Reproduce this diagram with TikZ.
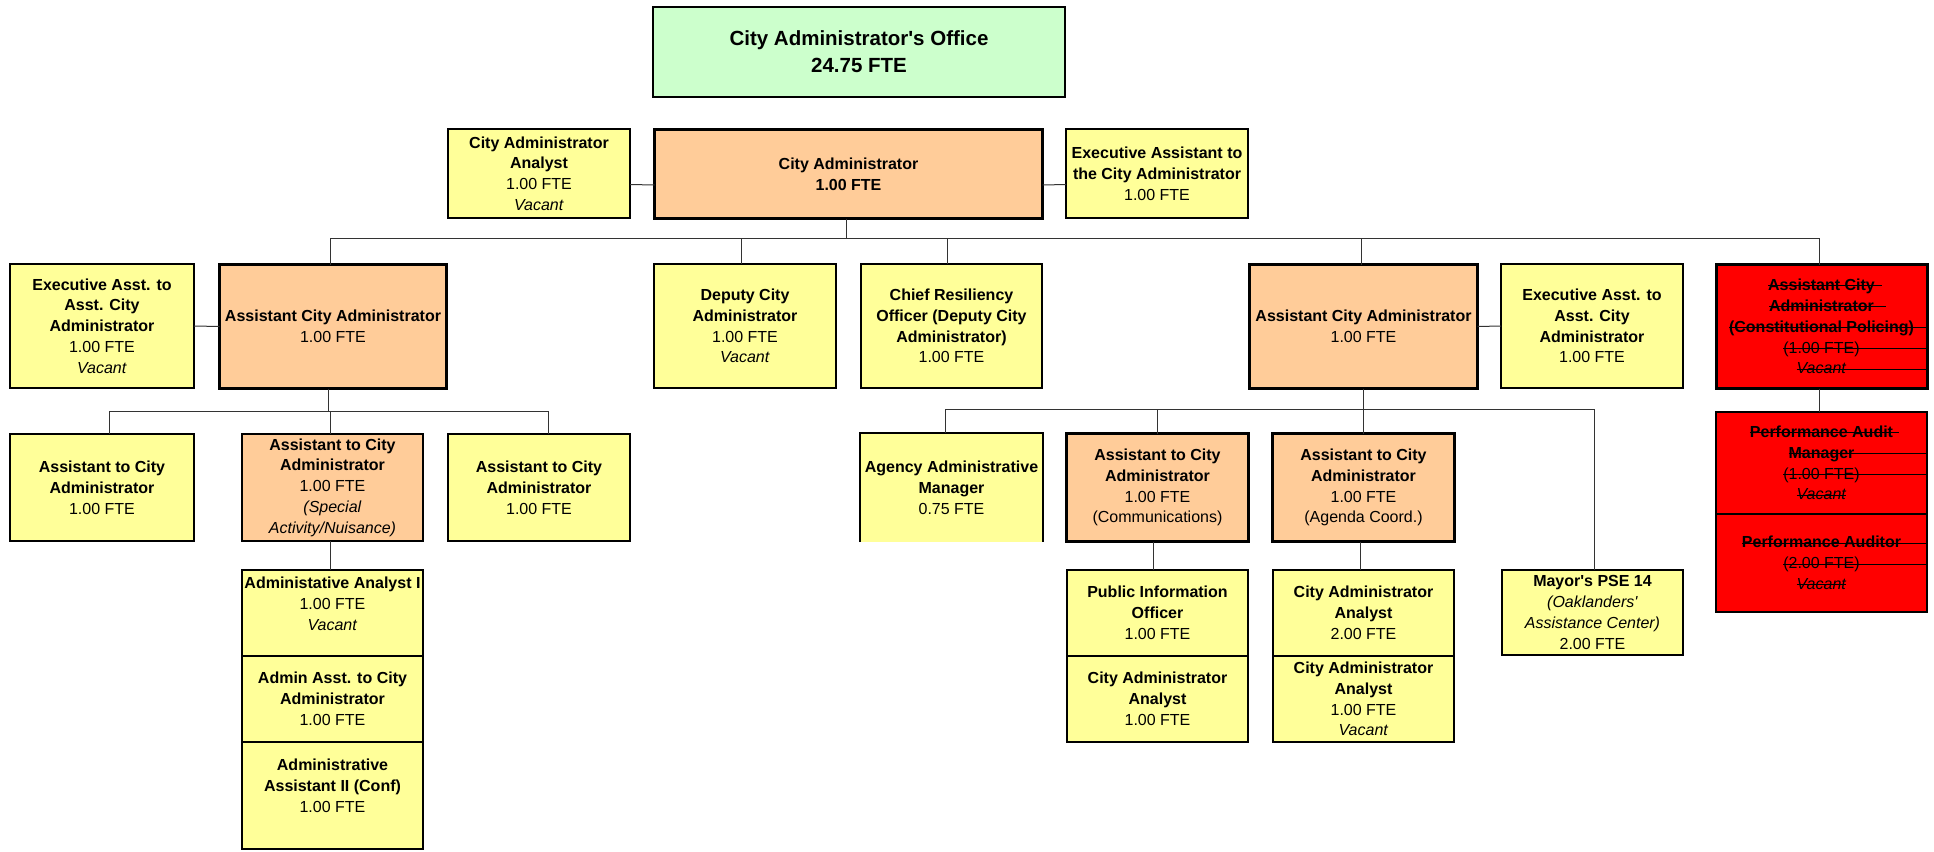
\documentclass[tikz,border=0pt]{standalone}
\usepackage{fontspec}
\setmainfont{Liberation Sans}[Ligatures=TeXOff]
\definecolor{boxyellow}{RGB}{255,255,153}
\definecolor{boxorange}{RGB}{255,204,153}
\definecolor{boxgreen}{RGB}{204,255,204}
\definecolor{boxred}{RGB}{255,0,0}
\newsavebox\strikebox
\newlength\redinner
\setlength\redinner{211pt}
% strike through a text, running a little past its end
\newcommand\strk[2][5pt]{\sbox\strikebox{#2}\rlap{\rule[0.27em]{\dimexpr\wd\strikebox+#1\relax}{0.9pt}}\usebox\strikebox}
% strike through a text and on to the right edge of its box
\newcommand\strkx[1]{\sbox\strikebox{#1}\rlap{\rule[0.27em]{\dimexpr(\wd\strikebox+\redinner)/2\relax}{0.9pt}}\usebox\strikebox}
\begin{document}
\begin{tikzpicture}[x=1pt,y=-1pt,line join=miter,
  font=\fontsize{16}{20.8}\selectfont,
  box/.style={draw=black,line width=2pt,inner sep=0pt,outer sep=0pt,align=center},
  ybox/.style={box,fill=boxyellow},
  obox/.style={box,fill=boxorange,line width=3pt},
  othin/.style={box,fill=boxorange},
  rbox/.style={box,fill=boxred},
  rthick/.style={box,fill=boxred,line width=3pt},
  conn/.style={draw=black!80,line width=1pt}]
\useasboundingbox (0,0) rectangle (1934,851);

% top
\node[box,fill=boxgreen,line width=2.5pt,minimum width=412pt,minimum height=90pt,
      font=\fontsize{20.5}{27}\selectfont\bfseries] (office) at (859,52)
  {City Administrator's Office\\24.75 FTE};
\node[obox,minimum width=388pt,minimum height=89pt] (ca) at (848.5,174)
  {\textbf{City Administrator}\\\textbf{1.00 FTE}};
\node[ybox,minimum width=182pt,minimum height=89pt] (caa) at (539,173.5)
  {\textbf{City Administrator}\\\textbf{Analyst}\\1.00 FTE\\\textit{Vacant}};
\node[ybox,minimum width=182pt,minimum height=89pt] (eaca) at (1157,173.5)
  {\textbf{Executive Assistant to}\\\textbf{the City Administrator}\\1.00 FTE};

% second row
\node[ybox,minimum width=184pt,minimum height=124pt] (eal) at (102,326)
  {\textbf{Executive Asst. to}\\\textbf{Asst. City}\\\textbf{Administrator}\\1.00 FTE\\\textit{Vacant}};
\node[obox,minimum width=227pt,minimum height=124pt] (acal) at (333,326.5)
  {\textbf{Assistant City Administrator}\\1.00 FTE};
\node[ybox,minimum width=182pt,minimum height=124pt] (dep) at (745,326)
  {\textbf{Deputy City}\\\textbf{Administrator}\\1.00 FTE\\\textit{Vacant}};
\node[ybox,minimum width=181pt,minimum height=124pt] (chief) at (951.5,326)
  {\textbf{Chief Resiliency}\\\textbf{Officer (Deputy City}\\\textbf{Administrator)}\\1.00 FTE};
\node[obox,minimum width=228pt,minimum height=124pt] (acar) at (1363.5,326.5)
  {\textbf{Assistant City Administrator}\\1.00 FTE};
\node[ybox,minimum width=182pt,minimum height=124pt] (ear) at (1592,326)
  {\textbf{Executive Asst. to}\\\textbf{Asst. City}\\\textbf{Administrator}\\1.00 FTE};
\node[rthick,minimum width=211pt,minimum height=124pt] (acap) at (1821.5,326.5)
  {\strk[7pt]{\textbf{Assistant City}}\\\strk[12pt]{\textbf{Administrator}}\\
   \strkx{\textbf{(Constitutional Policing)}}\\\strkx{(1.00 FTE)}\\\strkx{\textit{Vacant}}};

% third row, left branch
\node[ybox,minimum width=184pt,minimum height=107pt] (atl1) at (102,487.5)
  {\textbf{Assistant to City}\\\textbf{Administrator}\\1.00 FTE};
\node[othin,minimum width=181pt,minimum height=107pt] (atsp) at (332.5,487.5)
  {\textbf{Assistant to City}\\\textbf{Administrator}\\1.00 FTE\\\textit{(Special}\\\textit{Activity/Nuisance)}};
\node[ybox,minimum width=182pt,minimum height=107pt] (atl3) at (539,487.5)
  {\textbf{Assistant to City}\\\textbf{Administrator}\\1.00 FTE};
\node[ybox,minimum width=181pt,minimum height=86pt] (aa1) at (332.5,613)
  {\textbf{Administative Analyst I}\\1.00 FTE\\\textit{Vacant}\rule[-19pt]{0pt}{1pt}};
\node[ybox,minimum width=181pt,minimum height=86pt] (aat) at (332.5,699)
  {\textbf{Admin Asst. to City}\\\textbf{Administrator}\\1.00 FTE};
\node[ybox,minimum width=181pt,minimum height=107pt] (aa2) at (332.5,795.5)
  {\textbf{Administrative}\\\textbf{Assistant II (Conf)}\\1.00 FTE\rule[-20pt]{0pt}{1pt}};

% third row, right branch
\node[box,draw=none,fill=boxyellow,minimum width=183pt,minimum height=109pt] (agency) at (951.5,487.5)
  {\textbf{Agency Administrative}\\\textbf{Manager}\\0.75 FTE};
\draw[line width=2pt] (agency.south west) -- (agency.north west) -- (agency.north east) -- (agency.south east);
\node[obox,minimum width=182pt,minimum height=108pt] (comm) at (1157.5,487.5)
  {\textbf{Assistant to City}\\\textbf{Administrator}\\1.00 FTE\\(Communications)};
\node[obox,minimum width=182pt,minimum height=108pt] (agenda) at (1363.5,487.5)
  {\textbf{Assistant to City}\\\textbf{Administrator}\\1.00 FTE\\(Agenda Coord.)};
\node[ybox,minimum width=181pt,minimum height=86pt] (pio) at (1157.5,613)
  {\textbf{Public Information}\\\textbf{Officer}\\1.00 FTE};
\node[ybox,minimum width=181pt,minimum height=86pt] (caa1) at (1157.5,699)
  {\textbf{City Administrator}\\\textbf{Analyst}\\1.00 FTE};
\node[ybox,minimum width=181pt,minimum height=86pt] (caa2) at (1363.5,613)
  {\textbf{City Administrator}\\\textbf{Analyst}\\2.00 FTE};
\node[ybox,minimum width=181pt,minimum height=86pt] (caa3) at (1363.5,699)
  {\textbf{City Administrator}\\\textbf{Analyst}\\1.00 FTE\\\textit{Vacant}};
\node[ybox,minimum width=181pt,minimum height=85pt] (mayor) at (1592.5,612.5)
  {\textbf{Mayor's PSE 14}\\\textit{(Oaklanders'}\\\textit{Assistance Center)}\\2.00 FTE};

% performance audit
\node[rbox,minimum width=211pt,minimum height=102pt] (pam) at (1821.5,463)
  {\strk[6pt]{\textbf{Performance Audit}}\\\strkx{\textbf{Manager}}\\\strkx{(1.00 FTE)}\\\strk[0pt]{\textit{Vacant}}};
\node[rbox,minimum width=211pt,minimum height=98pt] (pa) at (1821.5,563)
  {\strkx{\textbf{Performance Auditor}}\\\strkx{(2.00 FTE)}\\\strk[0pt]{\textit{Vacant}}};

% connectors
\coordinate (b1) at (846,238);
\coordinate (b2) at (328,411);
\coordinate (b3) at (1363.5,409);
\draw[conn] ([yshift=-11pt]caa.east) -- ([yshift=-11pt]ca.west);
\draw[conn] ([yshift=-11pt]ca.east) -- ([yshift=-11pt]eaca.west);
\draw[conn] ([xshift=-2.5pt]ca.south) -- (b1);
\draw[conn] (b1) -| ([xshift=-3pt]acal.north);
\draw[conn] (b1) -| ([xshift=-4pt]dep.north);
\draw[conn] (b1) -| ([xshift=-4.5pt]chief.north);
\draw[conn] (b1) -| ([xshift=-2pt]acar.north);
\draw[conn] (b1) -| ([xshift=-2.5pt]acap.north);
\draw[conn] (eal.east) -- (acal.west);
\draw[conn] (acar.east) -- (ear.west);
\draw[conn] ([xshift=-5pt]acal.south) -- (b2);
\draw[conn] (b2) -| ([xshift=7pt]atl1.north);
\draw[conn] (b2) -| ([xshift=-2.5pt]atsp.north);
\draw[conn] (b2) -| ([xshift=9pt]atl3.north);
\draw[conn] ([xshift=-2.5pt]atsp.south) -- ([xshift=-2.5pt]aa1.north);
\draw[conn] (acar.south) -- (b3);
\draw[conn] (b3) -| ([xshift=-6.5pt]agency.north);
\draw[conn] (b3) -| (comm.north);
\draw[conn] (b3) -| (agenda.north);
\draw[conn] (b3) -| ([xshift=1.5pt]mayor.north);
\draw[conn] ([xshift=-4.5pt]comm.south) -- ([xshift=-4.5pt]pio.north);
\draw[conn] ([xshift=-3.5pt]agenda.south) -- ([xshift=-3.5pt]caa2.north);
\draw[conn] ([xshift=-2.5pt]acap.south) -- ([xshift=-2.5pt]pam.north);
\end{tikzpicture}
\end{document}
